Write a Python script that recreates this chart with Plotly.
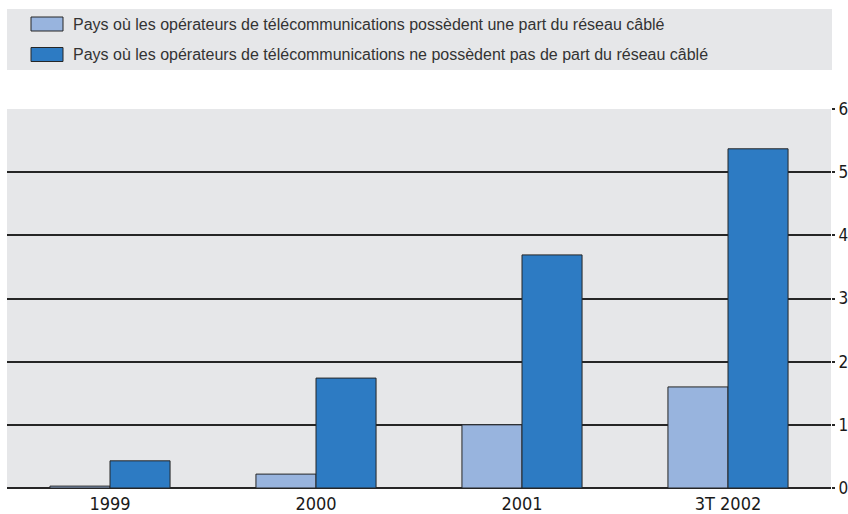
import plotly.graph_objects as go

categories = ["1999", "2000", "2001", "3T 2002"]
with_share = [0.03, 0.22, 1.0, 1.6]
without_share = [0.43, 1.74, 3.69, 5.37]
series_names = [
    "Pays où les opérateurs de télécommunications possèdent une part du réseau câblé",
    "Pays où les opérateurs de télécommunications ne possèdent pas de part du réseau câblé",
]
y_ticks = [0, 1, 2, 3, 4, 5, 6]

LIGHT = "#98B4DE"
DARK = "#2D7BC3"
BG = "#E6E7E9"
LINE = "#262626"
NARROW = "DejaVu Sans Condensed, Liberation Sans Narrow, Liberation Sans, Arial"

fig = go.Figure()
fig.add_trace(go.Bar(x=categories, y=with_share, name=series_names[0],
                     marker=dict(color=LIGHT, line=dict(color=LINE, width=1))))
fig.add_trace(go.Bar(x=categories, y=without_share, name=series_names[1],
                     marker=dict(color=DARK, line=dict(color=LINE, width=1))))

L, R, T, B = 7, 17, 109, 26
W, H = 848, 514
pw, ph = W - L - R, H - T - B

def px_x(x):
    return (x - L) / pw

def px_y(y):
    return (H - B - y) / ph

shapes = [dict(type="rect", xref="paper", yref="paper",
               x0=px_x(7), x1=px_x(832), y0=px_y(70), y1=px_y(9),
               fillcolor=BG, line=dict(width=0), layer="below")]
annotations = []
for i, (name, col) in enumerate(zip(series_names, [LIGHT, DARK])):
    top = 17 + 30.5 * i
    shapes.append(dict(type="rect", xref="paper", yref="paper",
                       x0=px_x(31), x1=px_x(63), y0=px_y(top + 14), y1=px_y(top),
                       fillcolor=col, line=dict(color=LINE, width=1)))
    annotations.append(dict(xref="paper", yref="paper", x=px_x(71), y=px_y(top + 7),
                            text=name, showarrow=False, xanchor="left", yanchor="middle",
                            font=dict(family="Arial, Liberation Sans", size=16, color="#333333")))

fig.update_layout(
    width=W, height=H,
    margin=dict(l=L, r=R, t=T, b=B, pad=0, autoexpand=False),
    paper_bgcolor="white", plot_bgcolor=BG,
    barmode="group", bargap=0.417, bargroupgap=0,
    showlegend=False,
    shapes=shapes, annotations=annotations,
    xaxis=dict(showgrid=False, ticks="", showline=False, automargin=False,
               ticklabelstandoff=3,
               tickfont=dict(family=NARROW, size=18, color="#1a1a1a")),
    yaxis=dict(side="right", range=[0, 6], tickvals=y_ticks, automargin=False,
               showgrid=True, gridcolor=LINE, gridwidth=1.5,
               zeroline=True, zerolinecolor=LINE, zerolinewidth=1.5,
               ticks="outside", ticklen=3, tickcolor=LINE, tickwidth=1.5,
               ticklabelstandoff=0,
               tickfont=dict(family=NARROW, size=17, color="#1a1a1a")),
)

fig.write_html("out.html")
